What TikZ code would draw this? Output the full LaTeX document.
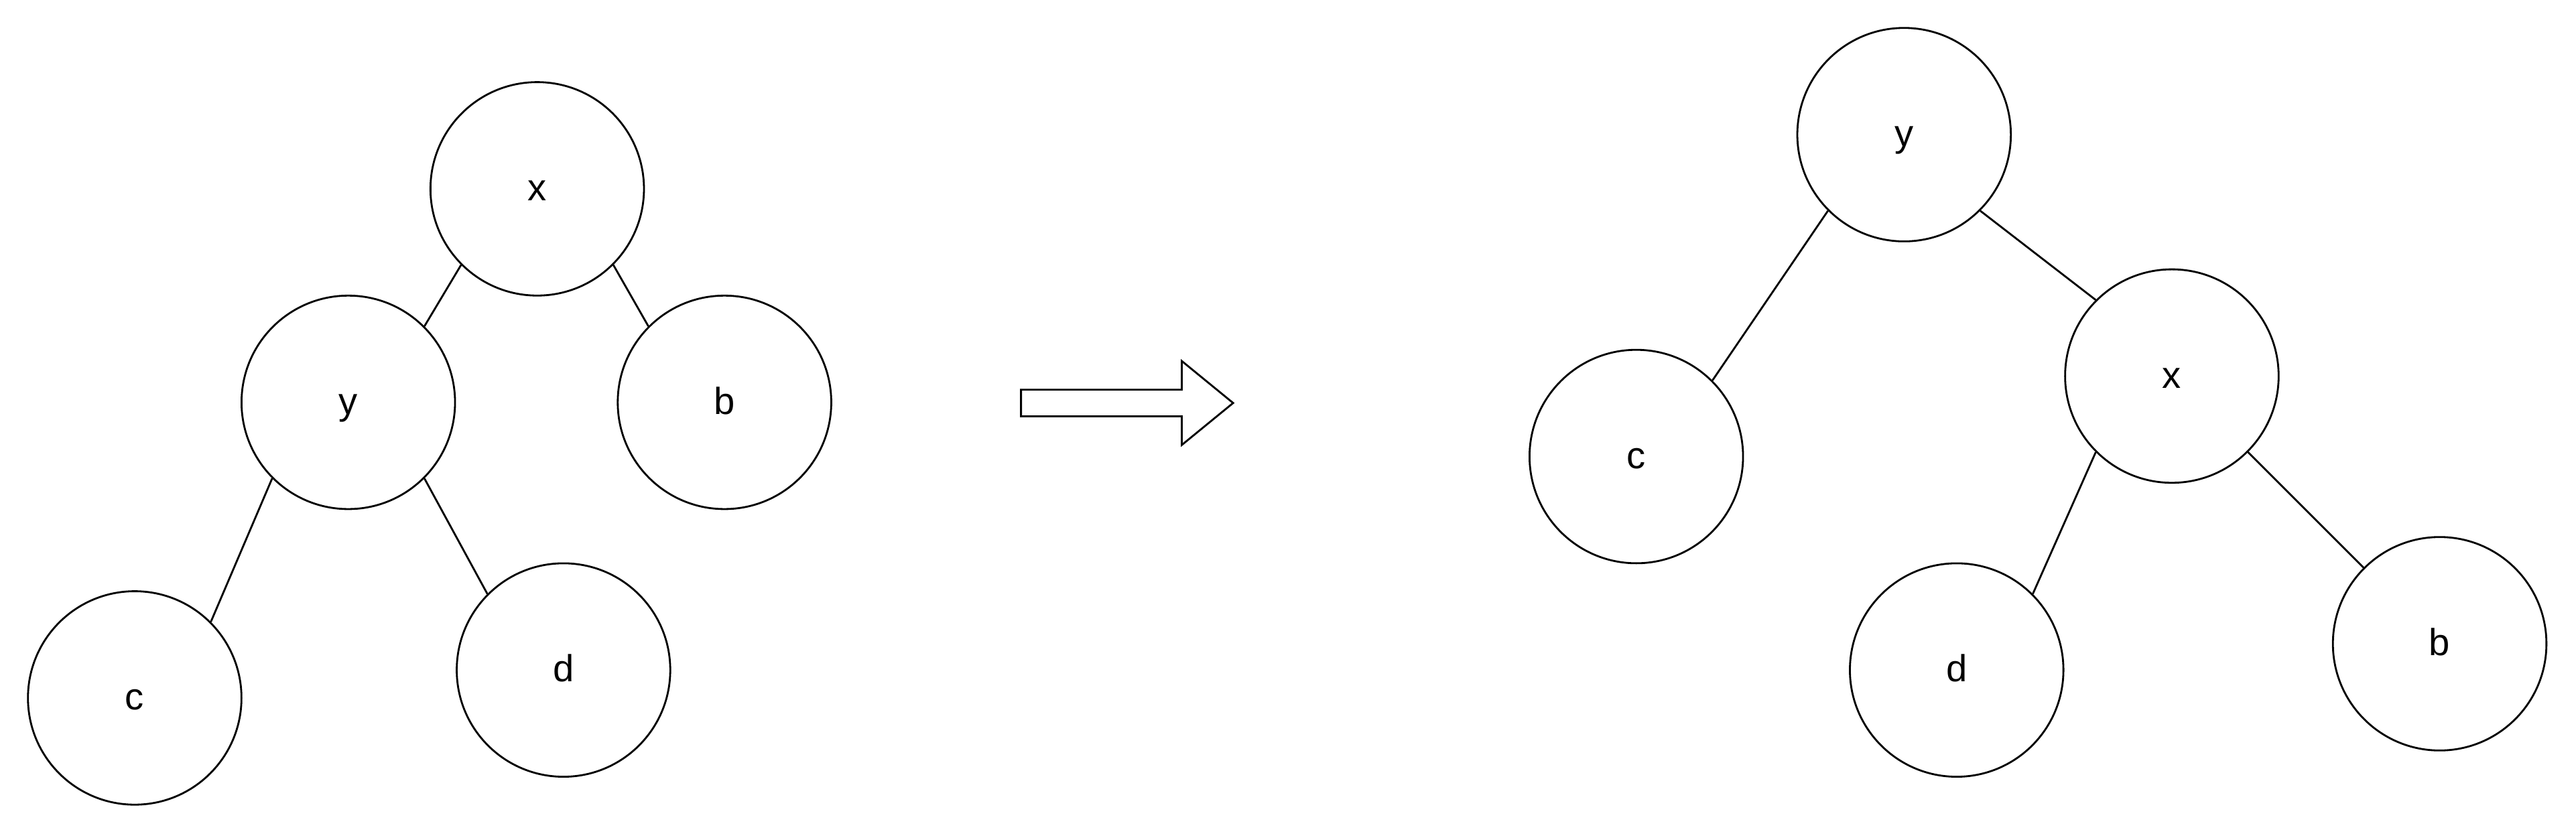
\documentclass[tikz,border=0pt]{standalone}
\usepackage{fontspec}
\setmainfont{Liberation Sans}
\begin{document}
\begin{tikzpicture}[x=0.024515cm,y=-0.024515cm,
  tnode/.style={circle,draw,line width=0.8pt,minimum size=3.187cm,inner sep=0pt,
    text height=10.1pt,text depth=0pt,font=\fontsize{16}{19}\selectfont},
  edge/.style={line width=0.8pt}]
\useasboundingbox (0,0) rectangle (1568,509);
% left tree
\node[tnode] (lx) at (327,115) {x};
\node[tnode] (ly) at (212,245) {y};
\node[tnode] (lb) at (441,245) {b};
\node[tnode] (lc) at (82,425) {c};
\node[tnode] (ld) at (343,408) {d};
\draw[edge] (lx.south west) -- (ly.north east);
\draw[edge] (lx.south east) -- (lb.north west);
\draw[edge] (ly.south west) -- (lc.north east);
\draw[edge] (ly.south east) -- (ld.north west);
% arrow
\draw[line width=0.8pt] (621.5,237.3) -- (719.3,237.3) -- (719.3,219.8) -- (750.6,245.4) -- (719.3,271) -- (719.3,253.5) -- (621.5,253.5) -- cycle;
% right tree
\node[tnode] (ry) at (1159,82) {y};
\node[tnode] (rc) at (996,278) {c};
\node[tnode] (rx) at (1322,229) {x};
\node[tnode] (rd) at (1191,408) {d};
\node[tnode] (rb) at (1485,392) {b};
\draw[edge] (ry.south west) -- (rc.north east);
\draw[edge] (ry.south east) -- (rx.north west);
\draw[edge] (rx.south west) -- (rd.north east);
\draw[edge] (rx.south east) -- (rb.north west);
\end{tikzpicture}
\end{document}
